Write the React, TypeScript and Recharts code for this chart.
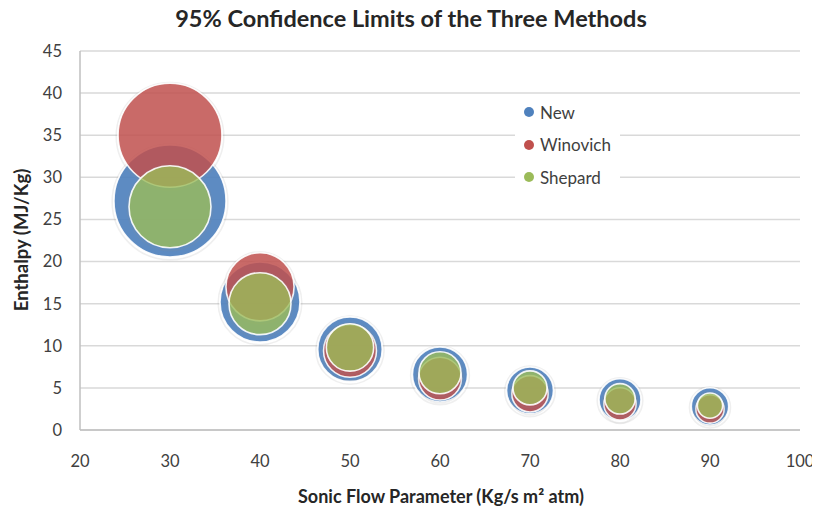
import React from 'react';
import { ScatterChart, Scatter, XAxis, YAxis, ZAxis, CartesianGrid, Legend } from 'recharts';

const xValues = [30, 40, 50, 60, 70, 80, 90];
const newY = [27.2, 15.2, 9.6, 6.6, 4.7, 3.6, 2.8];
const newZ = [31.4, 16.0, 10.4, 7.6, 5.5, 4.4, 3.5];
const winY = [35, 17.0, 9.4, 6.1, 4.3, 3.1, 2.5];
const winZ = [27.0, 11.6, 7.0, 4.6, 3.3, 2.6, 2.0];
const shepY = [26.5, 15.0, 9.8, 6.8, 5.0, 3.7, 2.9];
const shepZ = [16.8, 9.6, 5.6, 4.4, 2.9, 2.3, 1.6];

const xTicks = [20, 30, 40, 50, 60, 70, 80, 90, 100];
const yTicks = [0, 5, 10, 15, 20, 25, 30, 35, 40, 45];

const seriesNames = ['New', 'Winovich', 'Shepard'];
const seriesColors = ['#4F81BD', '#C0504D', '#9BBB59'];
const seriesOpacity = [0.92, 0.85, 0.8];

const build = (ys: number[], zs: number[]) => xValues.map((x, i) => ({ x, y: ys[i], z: zs[i] }));
const seriesData = [build(newY, newZ), build(winY, winZ), build(shepY, shepZ)];

const FONT = 'Lato, "Open Sans", sans-serif';

const makeBubble = (color: string, opacity: number) => (props: any) => {
  const { cx, cy } = props;
  const r = props.width ? props.width / 2 : Math.sqrt((props.size || 0) / Math.PI);
  if (cx == null || cy == null) return <g />;
  return (
    <g>
      <circle cx={cx} cy={cy + 1} r={r + 1.8} fill="none" stroke="#8c8c8c" strokeOpacity={0.14} strokeWidth={1.6} />
      <circle cx={cx} cy={cy} r={r} fill={color} fillOpacity={opacity} stroke="#ffffff" strokeOpacity={0.9} strokeWidth={1.6} />
    </g>
  );
};

const LegendContent = () => (
  <div style={{ fontFamily: FONT, fontSize: 17, color: '#404040', background: '#fff', padding: '0 0 0 9px', width: 105, height: 98, boxSizing: 'border-box' }}>
    {seriesNames.map((n, i) => (
      <div key={n} style={{ display: 'flex', alignItems: 'center', height: 32.5 }}>
        <span style={{ display: 'inline-block', width: 10, height: 10, borderRadius: '50%', background: seriesColors[i], marginRight: 6, flex: 'none' }} />
        <span>{n}</span>
      </div>
    ))}
  </div>
);

export default function App() {
  return (
    <div style={{ position: 'relative', width: 812, height: 502, fontFamily: FONT }}>
      <ScatterChart width={812} height={494} margin={{ top: 43, right: 20, bottom: 42, left: 22 }}>
        <CartesianGrid vertical={false} stroke="#d9d9d9" strokeWidth={1.5} />
        <XAxis
          type="number"
          dataKey="x"
          domain={[20, 100]}
          ticks={xTicks}
          interval={0}
          height={30}
          axisLine={{ stroke: '#bfbfbf', strokeWidth: 1.5 }}
          tickLine={false}
          tickMargin={19}
          tick={{ fill: '#404040', fontSize: 16.5, fontFamily: FONT }}
        />
        <YAxis
          type="number"
          dataKey="y"
          domain={[0, 45]}
          ticks={yTicks}
          interval={0}
          width={50}
          axisLine={{ stroke: '#bfbfbf', strokeWidth: 1.5 }}
          tickLine={false}
          tickMargin={12}
          tick={{ fill: '#404040', fontSize: 16.5, fontFamily: FONT }}
        />
        <ZAxis type="number" dataKey="z" domain={[0, 100]} range={[0, 31416]} />
        <Legend
          layout="vertical"
          align="center"
          verticalAlign="middle"
          wrapperStyle={{ left: 507, top: 88, width: 105, height: 98 }}
          content={() => <LegendContent />}
        />
        {seriesData.map((d, i) => (
          <Scatter
            key={seriesNames[i]}
            name={seriesNames[i]}
            data={d}
            fill={seriesColors[i]}
            shape={makeBubble(seriesColors[i], seriesOpacity[i])}
            isAnimationActive={false}
          />
        ))}
      </ScatterChart>
      <div style={{ position: 'absolute', zIndex: 2, left: 0, width: 812, top: -4, textAlign: 'center', fontSize: 23.5, fontWeight: 700, color: '#262626', lineHeight: '28px', paddingRight: 6, boxSizing: 'border-box' }}>
        95% Confidence Limits of the Three Methods
      </div>
      <div style={{ position: 'absolute', zIndex: 2, left: 433 - 200, width: 400, top: 477, textAlign: 'center', fontSize: 18, fontWeight: 700, color: '#262626', lineHeight: '22px' }}>
        Sonic Flow Parameter (Kg/s m² atm)
      </div>
      <div style={{ position: 'absolute', zIndex: 2, left: 13 - 100, top: 232 - 11, width: 200, textAlign: 'center', fontSize: 18.5, fontWeight: 700, color: '#262626', lineHeight: '22px', transform: 'rotate(-90deg)' }}>
        Enthalpy (MJ/Kg)
      </div>
    </div>
  );
}
